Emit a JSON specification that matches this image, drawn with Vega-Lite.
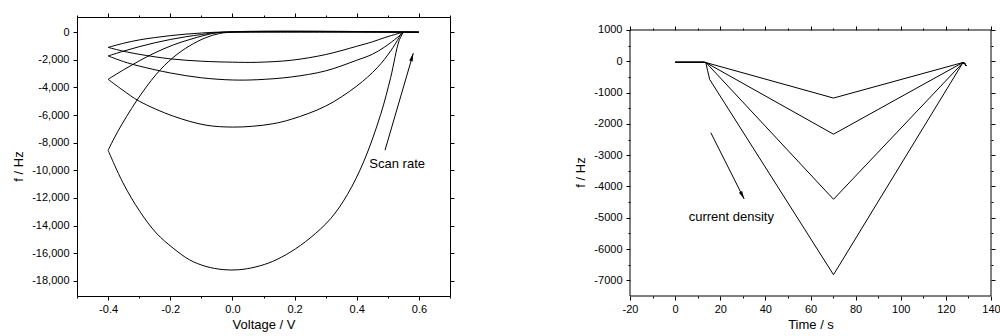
{
  "$schema": "https://vega.github.io/schema/vega-lite/v6.json",
  "background": "white",
  "padding": {"left": 12, "top": 12, "right": 0, "bottom": 0},
  "spacing": 119,
  "config": {
    "locale": {"number": {"decimal": ".", "thousands": ",", "grouping": [3], "currency": ["$", ""], "minus": "-"}},
    "view": {"stroke": "black", "strokeWidth": 1},
    "axis": {
      "domain": false, "grid": false, "tickColor": "black", "tickWidth": 1,
      "labelFont": "Liberation Sans", "labelFontSize": 11, "labelColor": "black",
      "titleFont": "Liberation Sans", "titleFontSize": 13, "titleFontWeight": "normal", "titleColor": "black",
      "labelFlush": false, "labelOverlap": false, "labelPadding": 3
    }
  },
  "datasets": {
    "cv": [
      {"c": "A1", "o": 1, "V": 0.6, "f": 0}, {"c": "A1", "o": 2, "V": 0.3, "f": 0}, {"c": "A1", "o": 3, "V": 0.0, "f": 0}, {"c": "A1", "o": 4, "V": -0.05, "f": 0}, {"c": "A1", "o": 5, "V": -0.1, "f": -60}, {"c": "A1", "o": 6, "V": -0.15, "f": -140}, {"c": "A1", "o": 7, "V": -0.2, "f": -250}, {"c": "A1", "o": 8, "V": -0.25, "f": -390}, {"c": "A1", "o": 9, "V": -0.3, "f": -560}, {"c": "A1", "o": 10, "V": -0.35, "f": -800}, {"c": "A1", "o": 11, "V": -0.4, "f": -1100},
      {"c": "A2", "o": 1, "V": -0.4, "f": -1100}, {"c": "A2", "o": 2, "V": -0.35, "f": -1380}, {"c": "A2", "o": 3, "V": -0.3, "f": -1600}, {"c": "A2", "o": 4, "V": -0.2, "f": -1930}, {"c": "A2", "o": 5, "V": -0.1, "f": -2100}, {"c": "A2", "o": 6, "V": 0.0, "f": -2170}, {"c": "A2", "o": 7, "V": 0.08, "f": -2180}, {"c": "A2", "o": 8, "V": 0.19, "f": -2030}, {"c": "A2", "o": 9, "V": 0.3, "f": -1620}, {"c": "A2", "o": 10, "V": 0.4, "f": -1020}, {"c": "A2", "o": 11, "V": 0.45, "f": -700}, {"c": "A2", "o": 12, "V": 0.49, "f": -390}, {"c": "A2", "o": 13, "V": 0.53, "f": -120}, {"c": "A2", "o": 14, "V": 0.55, "f": 0}, {"c": "A2", "o": 15, "V": 0.6, "f": 0},
      {"c": "B1", "o": 1, "V": 0.6, "f": 0}, {"c": "B1", "o": 2, "V": -0.03, "f": 0}, {"c": "B1", "o": 3, "V": -0.1, "f": -170}, {"c": "B1", "o": 4, "V": -0.15, "f": -330}, {"c": "B1", "o": 5, "V": -0.2, "f": -530}, {"c": "B1", "o": 6, "V": -0.25, "f": -770}, {"c": "B1", "o": 7, "V": -0.3, "f": -1050}, {"c": "B1", "o": 8, "V": -0.35, "f": -1370}, {"c": "B1", "o": 9, "V": -0.4, "f": -1720},
      {"c": "B2", "o": 1, "V": -0.4, "f": -1720}, {"c": "B2", "o": 2, "V": -0.35, "f": -2130}, {"c": "B2", "o": 3, "V": -0.3, "f": -2450}, {"c": "B2", "o": 4, "V": -0.2, "f": -2950}, {"c": "B2", "o": 5, "V": -0.1, "f": -3300}, {"c": "B2", "o": 6, "V": 0.0, "f": -3460}, {"c": "B2", "o": 7, "V": 0.08, "f": -3440}, {"c": "B2", "o": 8, "V": 0.19, "f": -3240}, {"c": "B2", "o": 9, "V": 0.3, "f": -2800}, {"c": "B2", "o": 10, "V": 0.4, "f": -2030}, {"c": "B2", "o": 11, "V": 0.45, "f": -1600}, {"c": "B2", "o": 12, "V": 0.49, "f": -1070}, {"c": "B2", "o": 13, "V": 0.53, "f": -390}, {"c": "B2", "o": 14, "V": 0.55, "f": 0},
      {"c": "C1", "o": 1, "V": 0.6, "f": 0}, {"c": "C1", "o": 2, "V": -0.03, "f": 0}, {"c": "C1", "o": 3, "V": -0.085, "f": -200}, {"c": "C1", "o": 4, "V": -0.14, "f": -550}, {"c": "C1", "o": 5, "V": -0.19, "f": -920}, {"c": "C1", "o": 6, "V": -0.25, "f": -1500}, {"c": "C1", "o": 7, "V": -0.3, "f": -2080}, {"c": "C1", "o": 8, "V": -0.35, "f": -2720}, {"c": "C1", "o": 9, "V": -0.4, "f": -3410},
      {"c": "C2", "o": 1, "V": -0.4, "f": -3410}, {"c": "C2", "o": 2, "V": -0.352, "f": -4210}, {"c": "C2", "o": 3, "V": -0.3, "f": -4990}, {"c": "C2", "o": 4, "V": -0.19, "f": -6080}, {"c": "C2", "o": 5, "V": -0.085, "f": -6730}, {"c": "C2", "o": 6, "V": 0.0, "f": -6870}, {"c": "C2", "o": 7, "V": 0.065, "f": -6810}, {"c": "C2", "o": 8, "V": 0.13, "f": -6630}, {"c": "C2", "o": 9, "V": 0.19, "f": -6300}, {"c": "C2", "o": 10, "V": 0.3, "f": -5350}, {"c": "C2", "o": 11, "V": 0.4, "f": -3900}, {"c": "C2", "o": 12, "V": 0.466, "f": -2570}, {"c": "C2", "o": 13, "V": 0.509, "f": -1360}, {"c": "C2", "o": 14, "V": 0.536, "f": -390}, {"c": "C2", "o": 15, "V": 0.545, "f": 0},
      {"c": "D1", "o": 1, "V": 0.6, "f": 0}, {"c": "D1", "o": 2, "V": 0.0, "f": 0}, {"c": "D1", "o": 3, "V": -0.042, "f": -100}, {"c": "D1", "o": 4, "V": -0.085, "f": -390}, {"c": "D1", "o": 5, "V": -0.138, "f": -990}, {"c": "D1", "o": 6, "V": -0.191, "f": -1840}, {"c": "D1", "o": 7, "V": -0.245, "f": -3050}, {"c": "D1", "o": 8, "V": -0.309, "f": -4990}, {"c": "D1", "o": 9, "V": -0.368, "f": -7160}, {"c": "D1", "o": 10, "V": -0.4, "f": -8550},
      {"c": "D2", "o": 1, "V": -0.4, "f": -8550}, {"c": "D2", "o": 2, "V": -0.352, "f": -10910}, {"c": "D2", "o": 3, "V": -0.298, "f": -12970}, {"c": "D2", "o": 4, "V": -0.245, "f": -14540}, {"c": "D2", "o": 5, "V": -0.191, "f": -15630}, {"c": "D2", "o": 6, "V": -0.138, "f": -16480}, {"c": "D2", "o": 7, "V": -0.085, "f": -16960}, {"c": "D2", "o": 8, "V": -0.03, "f": -17190}, {"c": "D2", "o": 9, "V": 0.02, "f": -17200}, {"c": "D2", "o": 10, "V": 0.076, "f": -16990}, {"c": "D2", "o": 11, "V": 0.129, "f": -16600}, {"c": "D2", "o": 12, "V": 0.188, "f": -15900}, {"c": "D2", "o": 13, "V": 0.25, "f": -14900}, {"c": "D2", "o": 14, "V": 0.316, "f": -13500}, {"c": "D2", "o": 15, "V": 0.37, "f": -11750}, {"c": "D2", "o": 16, "V": 0.423, "f": -9340}, {"c": "D2", "o": 17, "V": 0.477, "f": -5950}, {"c": "D2", "o": 18, "V": 0.509, "f": -3290}, {"c": "D2", "o": 19, "V": 0.536, "f": -630}, {"c": "D2", "o": 20, "V": 0.55, "f": 0}
    ],
    "qt": [
      {"c": "q1", "o": 1, "t": 0, "f": -30}, {"c": "q1", "o": 2, "t": 12.8, "f": -30}, {"c": "q1", "o": 3, "t": 13.6, "f": -40}, {"c": "q1", "o": 4, "t": 70.2, "f": -1175}, {"c": "q1", "o": 5, "t": 127.5, "f": -40}, {"c": "q1", "o": 6, "t": 128.3, "f": -60}, {"c": "q1", "o": 7, "t": 129, "f": -150},
      {"c": "q2", "o": 1, "t": 0, "f": -30}, {"c": "q2", "o": 2, "t": 12.8, "f": -30}, {"c": "q2", "o": 3, "t": 13.6, "f": -40}, {"c": "q2", "o": 4, "t": 70.2, "f": -2330}, {"c": "q2", "o": 5, "t": 127.5, "f": -40}, {"c": "q2", "o": 6, "t": 128.3, "f": -60}, {"c": "q2", "o": 7, "t": 129, "f": -150},
      {"c": "q3", "o": 1, "t": 0, "f": -30}, {"c": "q3", "o": 2, "t": 12.8, "f": -30}, {"c": "q3", "o": 3, "t": 13.8, "f": -50}, {"c": "q3", "o": 4, "t": 70.2, "f": -4410}, {"c": "q3", "o": 5, "t": 127.5, "f": -50}, {"c": "q3", "o": 6, "t": 128.3, "f": -60}, {"c": "q3", "o": 7, "t": 129, "f": -150},
      {"c": "q4", "o": 1, "t": 0, "f": -30}, {"c": "q4", "o": 2, "t": 12.8, "f": -30}, {"c": "q4", "o": 3, "t": 13.6, "f": -40}, {"c": "q4", "o": 4, "t": 14.4, "f": -300}, {"c": "q4", "o": 5, "t": 15.3, "f": -580}, {"c": "q4", "o": 6, "t": 70.2, "f": -6820}, {"c": "q4", "o": 7, "t": 127.5, "f": -50}, {"c": "q4", "o": 8, "t": 128.3, "f": -60}, {"c": "q4", "o": 9, "t": 129, "f": -150}
    ],
    "a1": [{"V": 0.491, "f": -8540, "V2": 0.582, "f2": -1525}],
    "h1": [{"V": 0.578, "f": -1800}],
    "t1": [{"V": 0.53, "f": -9560, "label": "Scan rate"}],
    "a2": [{"t": 15.8, "f": -2280, "t2": 30.6, "f2": -4400}],
    "h2": [{"t": 29.8, "f": -4286}],
    "t2": [{"t": 24.9, "f": -4962, "label": "current density"}]
  },
  "hconcat": [
    {
      "width": 373,
      "height": 279,
      "resolve": {"axis": {"x": "independent", "y": "independent"}},
      "layer": [
        {
          "data": {"name": "cv"},
          "mark": {"type": "line", "color": "black", "strokeWidth": 1, "interpolate": "catmull-rom"},
          "encoding": {
            "x": {"field": "V", "type": "quantitative", "scale": {"domain": [-0.5, 0.7], "nice": false, "zero": false},
                  "axis": {"orient": "bottom", "values": [-0.4, -0.2, 0, 0.2, 0.4, 0.6], "format": ".1f", "title": "Voltage / V", "tickSize": 4, "labelPadding": 3, "titlePadding": 4}},
            "y": {"field": "f", "type": "quantitative", "scale": {"domain": [-19100, 1100], "nice": false, "zero": false},
                  "axis": {"orient": "left", "values": [-18000, -16000, -14000, -12000, -10000, -8000, -6000, -4000, -2000, 0], "format": ",d", "title": "f / Hz", "tickSize": 4, "labelPadding": 4, "titlePadding": 6, "titleY": 149}},
            "detail": {"field": "c"},
            "order": {"field": "o", "type": "quantitative"}
          }
        },
        {
          "data": {"name": "a1"},
          "mark": {"type": "rule", "color": "black", "strokeWidth": 1},
          "encoding": {
            "x": {"field": "V", "type": "quantitative", "scale": {"domain": [-0.5, 0.7], "nice": false, "zero": false},
                  "axis": {"orient": "top", "values": [-0.4, -0.2, 0, 0.2, 0.4, 0.6], "labels": false, "title": null, "tickSize": 4}},
            "x2": {"field": "V2"},
            "y": {"field": "f", "type": "quantitative", "scale": {"domain": [-19100, 1100], "nice": false, "zero": false},
                  "axis": {"orient": "right", "values": [-18000, -16000, -14000, -12000, -10000, -8000, -6000, -4000, -2000, 0], "labels": false, "title": null, "tickSize": 4}},
            "y2": {"field": "f2"}
          }
        },
        {
          "data": {"name": "h1"},
          "mark": {"type": "point", "shape": "M0,-1L0.45,1L-0.45,1Z", "filled": true, "color": "black", "opacity": 1, "size": 64, "angle": 16},
          "encoding": {
            "x": {"field": "V", "type": "quantitative", "scale": {"domain": [-0.5, 0.7], "nice": false, "zero": false},
                  "axis": {"orient": "bottom", "values": [-0.5, -0.3, -0.1, 0.1, 0.3, 0.5, 0.7], "labels": false, "title": null, "tickSize": 2}},
            "y": {"field": "f", "type": "quantitative", "scale": {"domain": [-19100, 1100], "nice": false, "zero": false}, "axis": null}
          }
        },
        {
          "data": {"name": "t1"},
          "mark": {"type": "text", "font": "Liberation Sans", "fontSize": 13, "color": "black", "align": "center", "baseline": "middle"},
          "encoding": {
            "x": {"field": "V", "type": "quantitative", "scale": {"domain": [-0.5, 0.7], "nice": false, "zero": false},
                  "axis": {"orient": "top", "values": [-0.5, -0.3, -0.1, 0.1, 0.3, 0.5, 0.7], "labels": false, "title": null, "tickSize": 2}},
            "y": {"field": "f", "type": "quantitative", "scale": {"domain": [-19100, 1100], "nice": false, "zero": false}, "axis": null},
            "text": {"field": "label"}
          }
        }
      ]
    },
    {
      "width": 361,
      "height": 279,
      "view": {"stroke": null},
      "resolve": {"axis": {"x": "independent", "y": "independent"}},
      "layer": [
        {
          "data": {"name": "qt"},
          "mark": {"type": "line", "color": "black", "strokeWidth": 1},
          "encoding": {
            "x": {"field": "t", "type": "quantitative", "scale": {"domain": [-20, 140], "nice": false, "zero": false},
                  "axis": {"orient": "bottom", "values": [-20, 0, 20, 40, 60, 80, 100, 120, 140], "format": "d", "title": "Time / s", "tickSize": 4, "labelPadding": 3, "titlePadding": 4}},
            "y": {"field": "f", "type": "quantitative", "scale": {"domain": [-7500, 1415], "nice": false, "zero": false},
                  "axis": {"orient": "left", "values": [-7000, -6000, -5000, -4000, -3000, -2000, -1000, 0, 1000], "format": "d", "title": "f / Hz", "tickSize": 4, "labelPadding": 4, "titlePadding": 6, "titleY": 155}},
            "detail": {"field": "c"},
            "order": {"field": "o", "type": "quantitative"}
          }
        },
        {
          "data": {"name": "a2"},
          "mark": {"type": "rule", "color": "black", "strokeWidth": 1},
          "encoding": {
            "x": {"field": "t", "type": "quantitative", "scale": {"domain": [-20, 140], "nice": false, "zero": false},
                  "axis": {"orient": "top", "values": [-20, 0, 20, 40, 60, 80, 100, 120, 140], "labels": false, "title": null, "tickSize": 4, "offset": -13}},
            "x2": {"field": "t2"},
            "y": {"field": "f", "type": "quantitative", "scale": {"domain": [-7500, 1415], "nice": false, "zero": false},
                  "axis": {"orient": "right", "values": [-7000, -6000, -5000, -4000, -3000, -2000, -1000, 0, 1000], "labels": false, "title": null, "tickSize": 4}},
            "y2": {"field": "f2"}
          }
        },
        {
          "data": {"name": "h2"},
          "mark": {"type": "point", "shape": "M0,-1L0.45,1L-0.45,1Z", "filled": true, "color": "black", "opacity": 1, "size": 64, "angle": 153},
          "encoding": {
            "x": {"field": "t", "type": "quantitative", "scale": {"domain": [-20, 140], "nice": false, "zero": false},
                  "axis": {"orient": "bottom", "values": [-10, 10, 30, 50, 70, 90, 110, 130], "labels": false, "title": null, "tickSize": 2}},
            "y": {"field": "f", "type": "quantitative", "scale": {"domain": [-7500, 1415], "nice": false, "zero": false},
                  "axis": {"orient": "left", "values": [-6500, -5500, -4500, -3500, -2500, -1500, -500, 500], "labels": false, "title": null, "tickSize": 2}}
          }
        },
        {
          "data": {"name": "t2"},
          "mark": {"type": "text", "font": "Liberation Sans", "fontSize": 13, "color": "black", "align": "center", "baseline": "middle"},
          "encoding": {
            "x": {"field": "t", "type": "quantitative", "scale": {"domain": [-20, 140], "nice": false, "zero": false},
                  "axis": {"orient": "top", "values": [-10, 10, 30, 50, 70, 90, 110, 130], "labels": false, "title": null, "tickSize": 2, "offset": -13}},
            "y": {"field": "f", "type": "quantitative", "scale": {"domain": [-7500, 1415], "nice": false, "zero": false},
                  "axis": {"orient": "right", "values": [-6500, -5500, -4500, -3500, -2500, -1500, -500, 500], "labels": false, "title": null, "tickSize": 2}},
            "text": {"field": "label"}
          }
        },
        {
          "data": {"values": [{}]},
          "mark": {"type": "rule", "color": "black", "strokeWidth": 1},
          "encoding": {
            "y": {"datum": 1000, "type": "quantitative", "scale": {"domain": [-7500, 1415], "nice": false, "zero": false}, "axis": null}
          }
        },
        {
          "data": {"values": [{}]},
          "mark": {"type": "rule", "color": "black", "strokeWidth": 1},
          "encoding": {
            "y": {"datum": -7500, "type": "quantitative", "scale": {"domain": [-7500, 1415], "nice": false, "zero": false}, "axis": null}
          }
        },
        {
          "data": {"values": [{}]},
          "mark": {"type": "rule", "color": "black", "strokeWidth": 1},
          "encoding": {
            "x": {"datum": -20, "type": "quantitative", "scale": {"domain": [-20, 140], "nice": false, "zero": false}, "axis": null},
            "y": {"datum": -7500, "type": "quantitative", "scale": {"domain": [-7500, 1415], "nice": false, "zero": false}, "axis": null},
            "y2": {"datum": 1000}
          }
        },
        {
          "data": {"values": [{}]},
          "mark": {"type": "rule", "color": "black", "strokeWidth": 1},
          "encoding": {
            "x": {"datum": 140, "type": "quantitative", "scale": {"domain": [-20, 140], "nice": false, "zero": false}, "axis": null},
            "y": {"datum": -7500, "type": "quantitative", "scale": {"domain": [-7500, 1415], "nice": false, "zero": false}, "axis": null},
            "y2": {"datum": 1000}
          }
        }
      ]
    }
  ]
}
